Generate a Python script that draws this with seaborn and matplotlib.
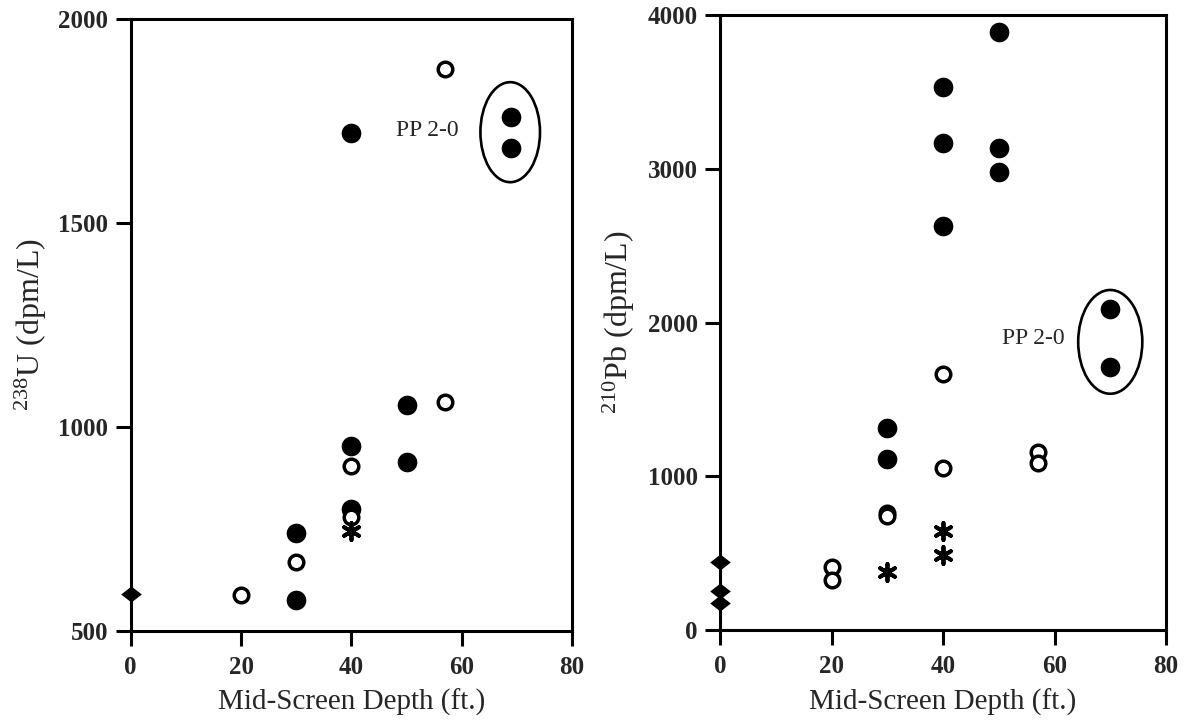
import numpy as np
import pandas as pd
import matplotlib
matplotlib.use("Agg")
import matplotlib.pyplot as plt
from matplotlib.patches import Ellipse
import seaborn as sns

# ---- data: mid-screen depth (ft.) and activity (dpm/L) ----
# 238U panel
u_diamond_depth = [0]
u_diamond_val = [590]
u_open_depth = [20, 30, 40, 40, 57, 57]
u_open_val = [588, 668, 905, 780, 1060, 1878]
u_filled_depth = [30, 30, 40, 40, 40, 50, 50]
u_filled_val = [575, 740, 953, 800, 1720, 1053, 915]
u_pp_depth = [69, 69]
u_pp_val = [1760, 1683]
u_star_depth = [40]
u_star_val = [745]

# 210Pb panel
pb_diamond_depth = [0, 0, 0]
pb_diamond_val = [443, 252, 178]
pb_open_depth = [20, 20, 30, 30, 40, 40, 57, 57]
pb_open_val = [410, 323, 762, 742, 1667, 1053, 1155, 1087]
pb_filled_depth = [30, 30, 40, 40, 40, 50, 50, 50]
pb_filled_val = [1316, 1110, 3533, 3168, 2629, 3892, 3138, 2979]
pb_pp_depth = [70, 70]
pb_pp_val = [2090, 1710]
pb_star_depth = [30, 40, 40]
pb_star_val = [375, 643, 489]

x_ticks = [0, 20, 40, 60, 80]
u_ticks = [500, 1000, 1500, 2000]
pb_ticks = [0, 1000, 2000, 3000, 4000]

sns.set_theme(style="white")
plt.rcParams["font.family"] = ["Liberation Serif", "DejaVu Serif"]
plt.rcParams["mathtext.fontset"] = "custom"
plt.rcParams["mathtext.rm"] = "Liberation Serif"
plt.rcParams["mathtext.it"] = "Liberation Serif:italic"

# flattened diamond marker
diamond = [(-1.0, 0.0), (0.0, 0.78), (1.0, 0.0), (0.0, -0.78), (-1.0, 0.0)]
asterisk = (6, 2, 0)

fig = plt.figure(figsize=(11.85, 7.22), dpi=100)
W, H = 1185, 722
ax_u = fig.add_axes([130.7 / W, 1 - 631 / H, (572 - 130.7) / W, (631 - 18.7) / H])
ax_pb = fig.add_axes([720 / W, 1 - 630 / H, (1166 - 720) / W, (630 - 15) / H])


def draw_panel(ax, groups, pp, ellipse, pp_text_xy, ylim, yticks, ylabel):
    for depth, vals, kind in groups:
        df = pd.DataFrame({"depth": depth, "value": vals})
        if kind == "filled":
            sns.scatterplot(data=df, x="depth", y="value", ax=ax, marker="o", s=200,
                            color="black", edgecolor="black", linewidth=0, clip_on=False, zorder=3)
        elif kind == "open":
            sns.scatterplot(data=df, x="depth", y="value", ax=ax, marker="o", s=110,
                            facecolor="white", edgecolor="black", linewidth=2.5,
                            clip_on=False, zorder=4)
        elif kind == "diamond":
            sns.scatterplot(data=df, x="depth", y="value", ax=ax, marker=diamond, s=220,
                            color="black", edgecolor="black", linewidth=0, clip_on=False, zorder=5)
        elif kind == "star":
            sns.scatterplot(data=df, x="depth", y="value", ax=ax, marker=asterisk, s=150,
                            color="black", linewidth=2.8, clip_on=False, zorder=5)

    # encircled PP 2-0 samples
    pdf = pd.DataFrame({"depth": pp[0], "value": pp[1]})
    sns.scatterplot(data=pdf, x="depth", y="value", ax=ax, marker="o", s=200,
                    color="black", edgecolor="black", linewidth=0, zorder=3)
    cx, cy, ew, eh = ellipse
    ax.add_patch(Ellipse((cx, cy), ew, eh, fill=False, edgecolor="black", linewidth=1.9, zorder=2))
    ax.text(pp_text_xy[0], pp_text_xy[1], "PP 2-0", fontsize=17, ha="center", va="center")

    ax.set_xlim(0, 80)
    ax.set_ylim(*ylim)
    ax.set_xticks(x_ticks)
    ax.set_yticks(yticks)
    ax.set_xticklabels([str(t) for t in x_ticks])
    ax.set_yticklabels([str(t) for t in yticks])
    for lab in ax.get_xticklabels() + ax.get_yticklabels():
        lab.set_fontsize(18)
        lab.set_fontweight("bold")
    ax.tick_params(axis="both", direction="out", length=11, width=2.2, color="black",
                   bottom=True, left=True, top=False, right=False)
    ax.tick_params(axis="x", pad=7)
    ax.tick_params(axis="y", pad=5)
    for sp in ax.spines.values():
        sp.set_visible(True)
        sp.set_color("black")
        sp.set_linewidth(2.2)
    ax.set_xlabel("Mid-Screen Depth (ft.)", fontsize=21)
    ax.set_ylabel(ylabel, fontsize=23)
    ax.xaxis.set_label_coords(0.5, -0.095)
    ax.yaxis.set_label_coords(-0.185, 0.5)
    ax.grid(False)


draw_panel(
    ax_u,
    [(u_filled_depth, u_filled_val, "filled"),
     (u_open_depth, u_open_val, "open"),
     (u_star_depth, u_star_val, "star"),
     (u_diamond_depth, u_diamond_val, "diamond")],
    (u_pp_depth, u_pp_val),
    (68.8, 1722, 10.8, 245),
    (53.8, 1727),
    (500, 2000), u_ticks, r"$^{238}$U (dpm/L)",
)

draw_panel(
    ax_pb,
    [(pb_filled_depth, pb_filled_val, "filled"),
     (pb_open_depth, pb_open_val, "open"),
     (pb_star_depth, pb_star_val, "star"),
     (pb_diamond_depth, pb_diamond_val, "diamond")],
    (pb_pp_depth, pb_pp_val),
    (70, 1874, 11.5, 675),
    (56.2, 1899),
    (0, 4000), pb_ticks, r"$^{210}$Pb (dpm/L)",
)

fig.savefig("out.png", dpi=100, facecolor="white")
